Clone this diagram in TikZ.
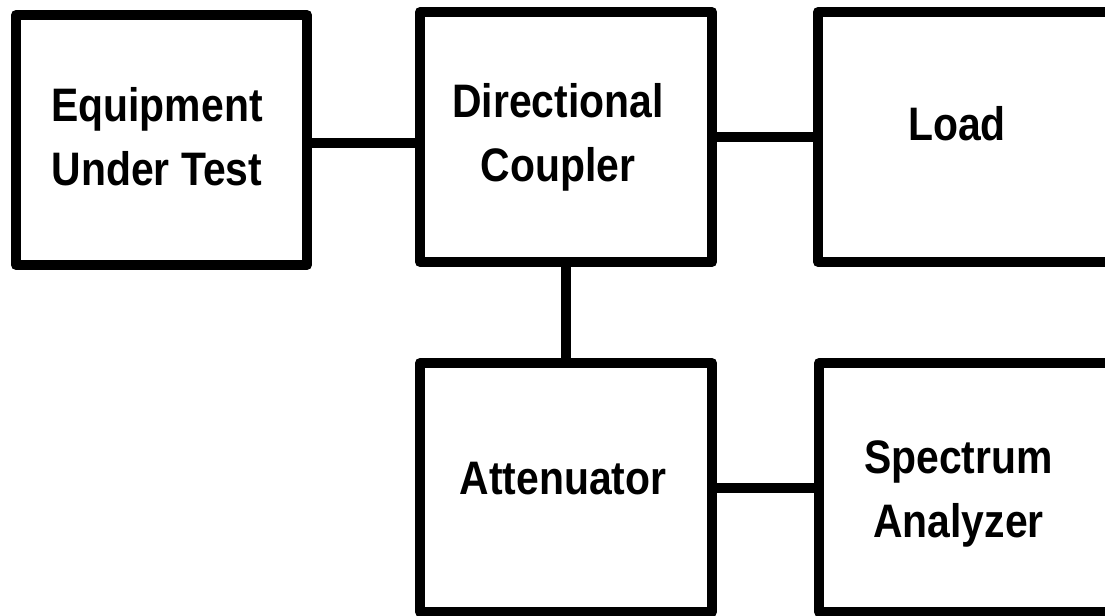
\documentclass[tikz,border=0pt]{standalone}
\usepackage{fontspec}
\setmainfont{Liberation Sans}[FakeStretch=0.87]
\usetikzlibrary{positioning}

\begin{document}
\begin{tikzpicture}[line width=5pt, box/.style={draw, rectangle, line join=round}, txt/.style={align=center, font=\bfseries\fontsize{23.5}{32}\selectfont}]
\useasboundingbox (0pt, 0pt) rectangle (552.5pt, -308pt);
\draw (80.75pt, -70.0pt)node[box, minimum width=145.5pt, minimum height=125pt](eut){};
\draw (283.0pt, -68.5pt)node[box, minimum width=146pt, minimum height=125pt](dc){};
\draw (482.5pt, -68.5pt)node[box, minimum width=147pt, minimum height=125pt](load){};
\draw (283.0pt, -243.75pt)node[box, minimum width=146pt, minimum height=124.5pt](att){};
\draw (482.75pt, -243.75pt)node[box, minimum width=146.5pt, minimum height=124.5pt](sa){};
\node[txt] (euttext) at ([shift={(-2.25pt, 1.5pt)}]eut.center) {Equipment\\Under Test};
\node[txt] (dctext) at ([shift={(-4pt, 0pt)}]dc.center) {Directional\\Coupler};
\node[txt] (loadtext) at ([shift={(-4pt, 6.5pt)}]load.center) {Load};
\node[txt] (atttext) at ([shift={(-1.5pt, 4.5pt)}]att.center) {Attenuator};
\node[txt] (satext) at ([shift={(-3.5pt, -3.25pt)}]sa.center) {Spectrum\\Analyzer};
\path (eut.east) ++(0pt, -1.5pt) coordinate(eutout);
\draw (eutout) -- (eutout -| dc.west);
\draw (dc) -- (load);
\draw (dc.south) -- (att.north);
\draw (att) -- (sa);
\end{tikzpicture}
\end{document}
